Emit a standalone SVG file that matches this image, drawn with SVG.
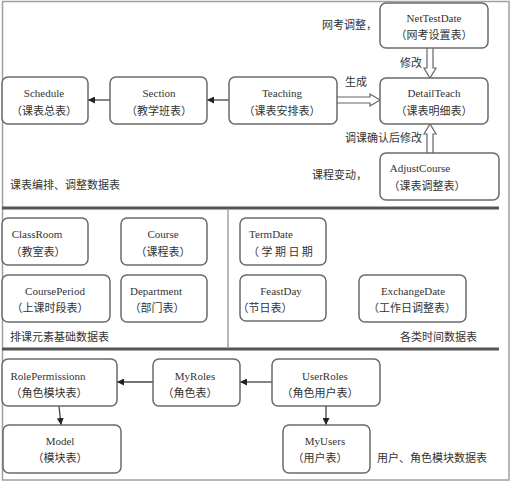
<svg xmlns="http://www.w3.org/2000/svg" width="514" height="483" viewBox="0 0 514 483">
<defs>
<style>
.box{fill:#fff;stroke:#6a6a6a;stroke-width:1.5}
.en{font-family:"Liberation Serif","Noto Sans CJK SC",serif;font-size:11px;fill:#333;text-anchor:middle}
.zh{font-family:"Noto Sans CJK SC","Liberation Sans",sans-serif;font-size:11px;fill:#333;text-anchor:middle}
.lb{font-family:"Noto Sans CJK SC","Liberation Sans",sans-serif;font-size:11px;fill:#333}
.ln{stroke:#444;stroke-width:1.3;fill:none}
.blk{stroke:#666;stroke-width:1.2;fill:#fff}
.sep{stroke:#555;stroke-width:3}
</style>
<marker id="ah" viewBox="0 0 10 10" refX="10" refY="5" markerWidth="7" markerHeight="7" markerUnits="userSpaceOnUse" orient="auto">
<path d="M0,0 L10,5 L0,10 z" fill="#222"/>
</marker>
</defs>
<rect width="514" height="483" fill="#fff"/>
<rect x="2.5" y="1.5" width="506.5" height="478.5" fill="none" stroke="#a0a0a0" stroke-width="1.5"/>
<g id="separators">
<line class="sep" x1="2" y1="208" x2="499" y2="208"/>
<line class="sep" x1="2" y1="349" x2="499" y2="349"/>
<line x1="228" y1="208" x2="228" y2="349" stroke="#777" stroke-width="1"/>
</g>
<g id="connectors">
<line class="ln" x1="229" y1="100" x2="207" y2="100" marker-end="url(#ah)"/>
<line class="ln" x1="110" y1="100" x2="88" y2="100" marker-end="url(#ah)"/>
<path class="blk" d="M337,97 H370 V94 L380,100 L370,106 V103 H337"/>
<path class="blk" d="M427,48 V68 H424 L430,78 L436,68 H433 V48"/>
<path class="blk" d="M427,153 V134 H424 L430,124 L436,134 H433 V153"/>
<line class="ln" x1="153" y1="382" x2="117" y2="382" marker-end="url(#ah)"/>
<line class="ln" x1="272" y1="382" x2="240" y2="382" marker-end="url(#ah)"/>
<line class="ln" x1="59" y1="406" x2="61" y2="425" marker-end="url(#ah)"/>
<line class="ln" x1="326" y1="406" x2="326" y2="425" marker-end="url(#ah)"/>
</g>
<g id="labels">
<text class="lb" x="322" y="29">网考调整，</text>
<text class="lb" x="400" y="67">修改</text>
<text class="lb" x="345" y="86">生成</text>
<text class="lb" x="345" y="142">调课确认后修改</text>
<text class="lb" x="312" y="179">课程变动，</text>
<text class="lb" x="10" y="189">课表编排、调整数据表</text>
<text class="lb" x="10" y="341">排课元素基础数据表</text>
<text class="lb" x="400" y="341">各类时间数据表</text>
<text class="lb" x="377" y="462">用户、角色模块数据表</text>
</g>
<g id="Schedule"><rect class="box" x="2" y="77" width="86" height="47" rx="6"/><text class="en" x="44" y="97">Schedule</text><text class="zh" x="44" y="115">（课表总表）</text></g>
<g id="Section"><rect class="box" x="110" y="77" width="97" height="47" rx="6"/><text class="en" x="159" y="97">Section</text><text class="zh" x="159" y="115">（教学班表）</text></g>
<g id="Teaching"><rect class="box" x="229" y="77" width="108" height="47" rx="6"/><text class="en" x="282" y="97">Teaching</text><text class="zh" x="282" y="115">（课表安排表）</text></g>
<g id="DetailTeach"><rect class="box" x="380" y="78" width="108" height="46" rx="6"/><text class="en" x="434" y="97">DetailTeach</text><text class="zh" x="434" y="115">（课表明细表）</text></g>
<g id="NetTestDate"><rect class="box" x="380" y="3" width="108" height="45" rx="6"/><text class="en" x="434" y="22">NetTestDate</text><text class="zh" x="434" y="39">（网考设置表）</text></g>
<g id="AdjustCourse"><rect class="box" x="380" y="153" width="119" height="47" rx="6"/><text class="en" x="420" y="172">AdjustCourse</text><text class="zh" x="427" y="190">（课表调整表）</text></g>
<g id="ClassRoom"><rect class="box" x="2" y="218" width="86" height="47" rx="6"/><text class="en" x="37" y="238">ClassRoom</text><text class="zh" x="38" y="256">（教室表）</text></g>
<g id="Course"><rect class="box" x="121" y="218" width="86" height="47" rx="6"/><text class="en" x="163" y="238">Course</text><text class="zh" x="163" y="256">（课程表）</text></g>
<g id="CoursePeriod"><rect class="box" x="2" y="275" width="108" height="47" rx="6"/><text class="en" x="55" y="295">CoursePeriod</text><text class="zh" x="50" y="312">（上课时段表）</text></g>
<g id="Department"><rect class="box" x="121" y="275" width="86" height="47" rx="6"/><text class="en" x="156" y="295">Department</text><text class="zh" x="157" y="312">（部门表）</text></g>
<g id="TermDate"><rect class="box" x="240" y="218" width="86" height="47" rx="6"/><text class="en" x="271" y="238">TermDate</text><text class="lb" x="248" y="256" xml:space="preserve">（ 学 期 日 期</text></g>
<g id="FeastDay"><rect class="box" x="240" y="275" width="86" height="46" rx="6"/><text class="en" x="281" y="295">FeastDay</text><text class="zh" x="265" y="312">（节日表）</text></g>
<g id="ExchangeDate"><rect class="box" x="359" y="275" width="107" height="47" rx="6"/><text class="en" x="413" y="295">ExchangeDate</text><text class="zh" x="412" y="312">（工作日调整表）</text></g>
<g id="RolePermissionn"><rect class="box" x="2" y="359" width="115" height="47" rx="6"/><text class="en" x="48" y="380">RolePermissionn</text><text class="zh" x="49" y="397">（角色模块表）</text></g>
<g id="MyRoles"><rect class="box" x="153" y="359" width="87" height="47" rx="6"/><text class="en" x="195" y="380">MyRoles</text><text class="zh" x="190" y="397">（角色表）</text></g>
<g id="UserRoles"><rect class="box" x="272" y="359" width="108" height="47" rx="6"/><text class="en" x="325" y="380">UserRoles</text><text class="zh" x="320" y="397">（角色用户表）</text></g>
<g id="Model"><rect class="box" x="3" y="425" width="118" height="48" rx="6"/><text class="en" x="60" y="445">Model</text><text class="zh" x="60" y="462">（模块表）</text></g>
<g id="MyUsers"><rect class="box" x="283" y="425" width="87" height="48" rx="6"/><text class="en" x="325" y="445">MyUsers</text><text class="zh" x="320" y="462">（用户表）</text></g>
</svg>
